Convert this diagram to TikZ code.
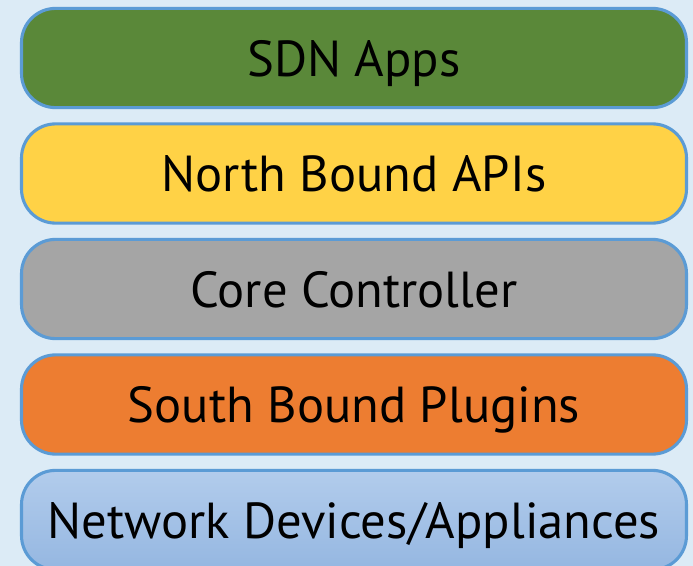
\documentclass[tikz,border=0pt]{standalone}
\usepackage{fontspec}
\setmainfont{PT Sans}
\usepackage{tikz}
\usetikzlibrary{positioning}
\definecolor{bgblue}{HTML}{DCEBF6}
\definecolor{edgeblue}{HTML}{5B9BD5}
\definecolor{appgreen}{HTML}{5A8839}
\definecolor{apiyellow}{HTML}{FFD246}
\definecolor{coregray}{HTML}{A5A5A5}
\definecolor{plugorange}{HTML}{ED7D31}
\definecolor{devtop}{HTML}{B2CCEC}
\definecolor{devbot}{HTML}{95B7E1}

\begin{document}
\begin{tikzpicture}[x=0.025cm,y=-0.025cm,
  layer/.style={draw=edgeblue, line width=2.2pt, rounded corners=0.85cm,
    minimum width=16.62cm, minimum height=2.48cm, inner sep=0pt,
    text height=26pt, text depth=0pt,
    font=\fontsize{36}{40}\selectfont}]
%background
\fill[bgblue] (0,0) rectangle (693,566);
\useasboundingbox (0,0) rectangle (693,566);
%layers
\node[layer, fill=appgreen] (apps) at (354,58) {SDN Apps};
\node[layer, fill=apiyellow] (nbapi) at (354,173.5) {North Bound APIs};
\node[layer, fill=coregray] (core) at (354,289) {Core Controller};
\node[layer, fill=plugorange] (sbplug) at (354,404.5) {South Bound Plugins};
\node[layer, top color=devtop, bottom color=devbot] (devices) at (354,520) {Network Devices/Appliances};
\end{tikzpicture}
\end{document}
